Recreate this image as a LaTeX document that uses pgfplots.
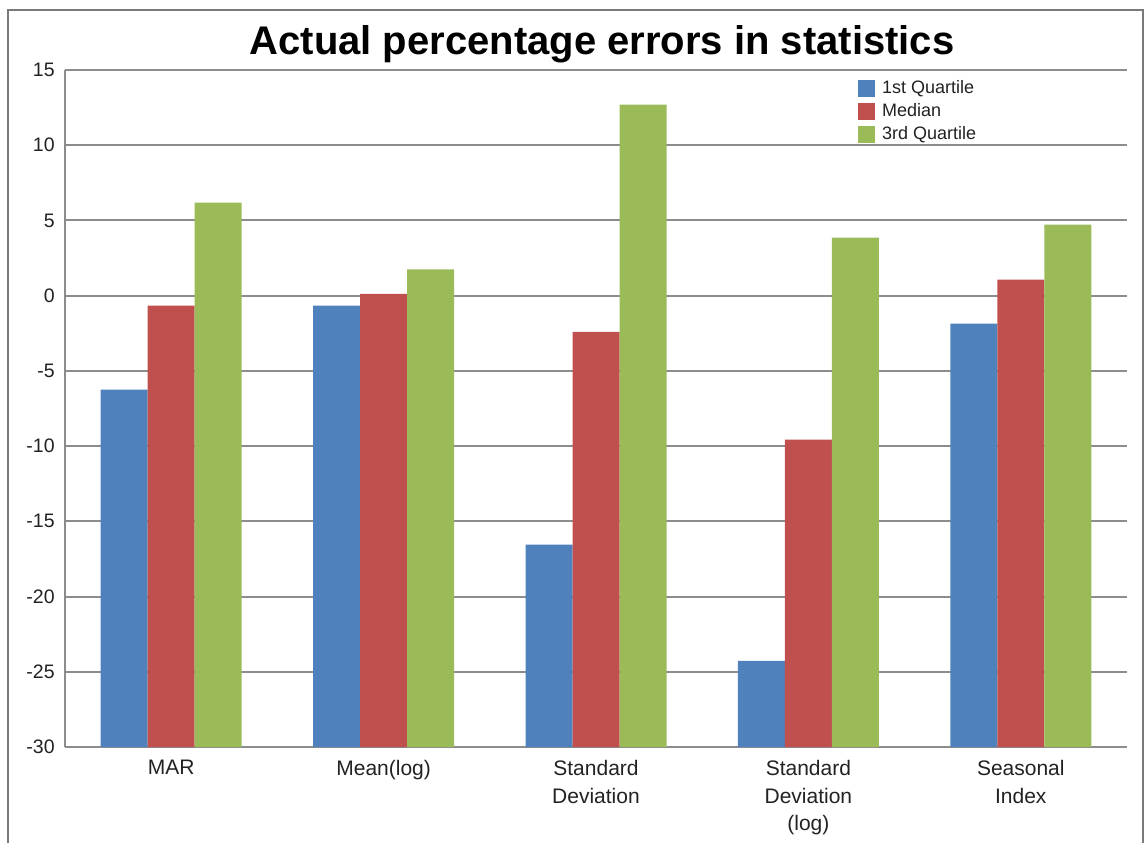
\documentclass[border=0pt]{standalone}
\usepackage{fontspec}
\setmainfont{Liberation Sans}
\usepackage{pgfplots}
\pgfplotsset{compat=1.18}
\usepackage{pgfplotstable}

\definecolor{qblue}{HTML}{4F81BD}
\definecolor{qred}{HTML}{C0504D}
\definecolor{qgreen}{HTML}{9BBB59}
\definecolor{gridgray}{HTML}{8C8C8C}
\definecolor{framegray}{HTML}{7A7A7A}
\definecolor{txt}{HTML}{222222}

% actual percentage errors, one row per statistic
\pgfplotstableread{
x q1     med    q3
0 -6.25  -0.66  6.18
1 -0.66   0.12  1.75
2 -16.55 -2.40  12.70
3 -24.27 -9.57  3.86
4 -1.86   1.06  4.72
}\errtable

\begin{document}
\begin{tikzpicture}
    \path[use as bounding box] (0,0) rectangle (573pt,421.5pt);
    \draw[framegray, line width=0.8pt] (4pt,0) -- (4pt,416.5pt) -- (571.5pt,416.5pt) -- (571.5pt,0);
    \node[anchor=base, text=black, font=\fontsize{20}{24}\selectfont\bfseries]
        at (301pt,394pt) {Actual percentage errors in statistics};
    \begin{axis}[
            at={(32.5pt,48pt)}, anchor=south west,
            scale only axis,
            width=531pt, height=338.5pt,
            xmin=-0.5, xmax=4.5,
            ymin=0, ymax=45,
            ybar=0pt, bar width=23.5pt,
            axis lines=left,
            axis line style={-, gridgray, line width=1pt},
            ymajorgrids,
            grid style={gridgray, line width=1pt},
            major tick length=0pt,
            ytick={0,5,...,45},
            yticklabels={-30,-25,-20,-15,-10,-5,0,5,10,15},
            xtick={0,1,2,3,4},
            xticklabels={MAR, Mean(log), Standard\\Deviation, Standard\\Deviation\\(log), Seasonal\\Index},
            yticklabel style={inner sep=0pt, xshift=-5pt, text=txt, font=\fontsize{9.75}{12}\selectfont},
            xticklabel style={align=center, inner sep=0pt, yshift=-6.5pt, text=txt, font=\fontsize{10.5}{13.75}\selectfont},
            /pgf/number format/assume math mode=true,
            legend style={at={(0.7465,0.9897)}, anchor=north west, draw=none, fill=none,
                inner sep=0pt, row sep=0pt, text=txt,
                font=\fontsize{9}{11}\selectfont,
                nodes={inner sep=1.5pt, text height=6.6pt, text depth=1.9pt},
                cells={anchor=west},
                /tikz/every odd column/.append style={column sep=2pt}},
            legend image code/.code={\fill[#1] (0pt,-4.25pt) rectangle (8.5pt,4.25pt);},
        ]
        \addplot[fill=qblue, draw=none] table[x=x, y expr=\thisrow{q1}+30] {\errtable};
        \addplot[fill=qred, draw=none] table[x=x, y expr=\thisrow{med}+30] {\errtable};
        \addplot[fill=qgreen, draw=none] table[x=x, y expr=\thisrow{q3}+30] {\errtable};
        \legend{1st Quartile, Median, 3rd Quartile}
    \end{axis}
\end{tikzpicture}
\end{document}
